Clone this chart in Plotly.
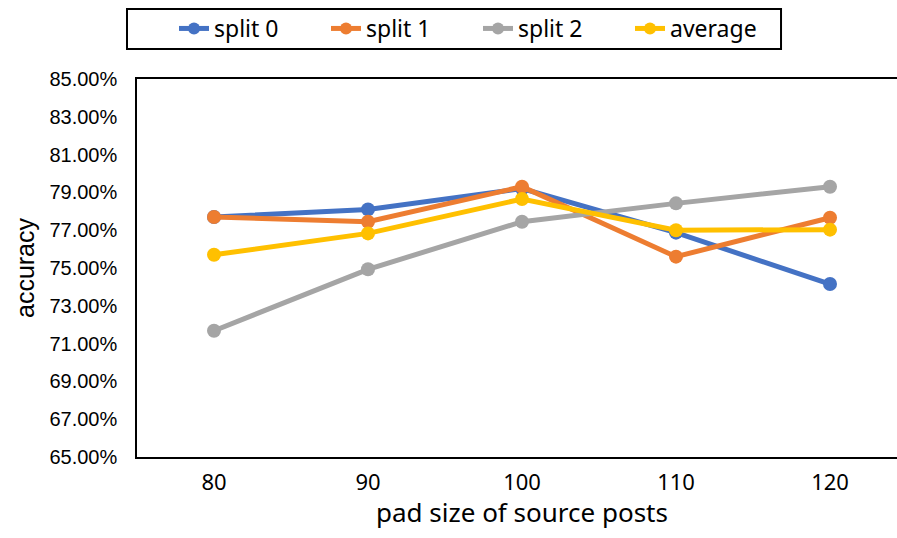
import plotly.graph_objects as go

categories = ["80", "90", "100", "110", "120"]
split0 = [77.70, 78.10, 79.20, 76.87, 74.15]
split1 = [77.70, 77.45, 79.30, 75.60, 77.66]
split2 = [71.68, 74.93, 77.45, 78.42, 79.30]
average = [75.70, 76.83, 78.65, 77.00, 77.03]

series = [("split 0", split0, "#4472C4"),
          ("split 1", split1, "#ED7D31"),
          ("split 2", split2, "#A5A5A5"),
          ("average", average, "#FFC000")]

fig = go.Figure()
for name, vals, color in series:
    fig.add_trace(go.Scatter(
        x=categories, y=[v / 100 for v in vals], name=name,
        mode="lines+markers",
        line=dict(color=color, width=5),
        marker=dict(color=color, size=14),
    ))

ARIAL = "Liberation Sans"
YAHEI = "Noto Sans"
fig.update_layout(
    width=897, height=538,
    margin=dict(l=137, r=0, t=79, b=81),
    plot_bgcolor="white", paper_bgcolor="white",
    font=dict(family=ARIAL, color="black", size=20),
    showlegend=True,
    legend=dict(
        orientation="h", x=0.0487, y=1.1905, xanchor="left", yanchor="top",
        borderwidth=0, bgcolor="rgba(0,0,0,0)",
        font=dict(size=23, family=YAHEI, color="black"),
        entrywidth=107, entrywidthmode="pixels",
        itemsizing="constant",
    ),
    shapes=[dict(
        type="rect", xref="paper", yref="paper",
        x0=-0.01316, x1=0.8474, y0=1.0794, y1=1.1852,
        line=dict(color="black", width=2), fillcolor="rgba(0,0,0,0)", layer="below",
    )],
    xaxis=dict(
        type="category", range=[-0.5, 4.435],
        showline=True, linecolor="black", linewidth=1.5, mirror=True,
        showgrid=False, ticks="", zeroline=False,
        tickfont=dict(size=22, family=YAHEI, color="black"),
        ticklabelstandoff=5,
    ),
    yaxis=dict(
        range=[0.65, 0.85], dtick=0.02, tick0=0.65, tickformat=".2%",
        showline=True, linecolor="black", linewidth=1.5,
        showgrid=False, ticks="", zeroline=False,
        tickfont=dict(size=20, family=ARIAL, color="black"),
        ticklabelstandoff=14,
        title=dict(text="accuracy", font=dict(size=25, family=ARIAL, color="black"), standoff=8),
    ),
    annotations=[dict(
        text="pad size of source posts", xref="x", x=2, yref="paper", y=-0.1455,
        yanchor="middle", xanchor="center", showarrow=False,
        font=dict(size=26, family=YAHEI, color="black"),
    )],
)

fig.write_html("out.html")
